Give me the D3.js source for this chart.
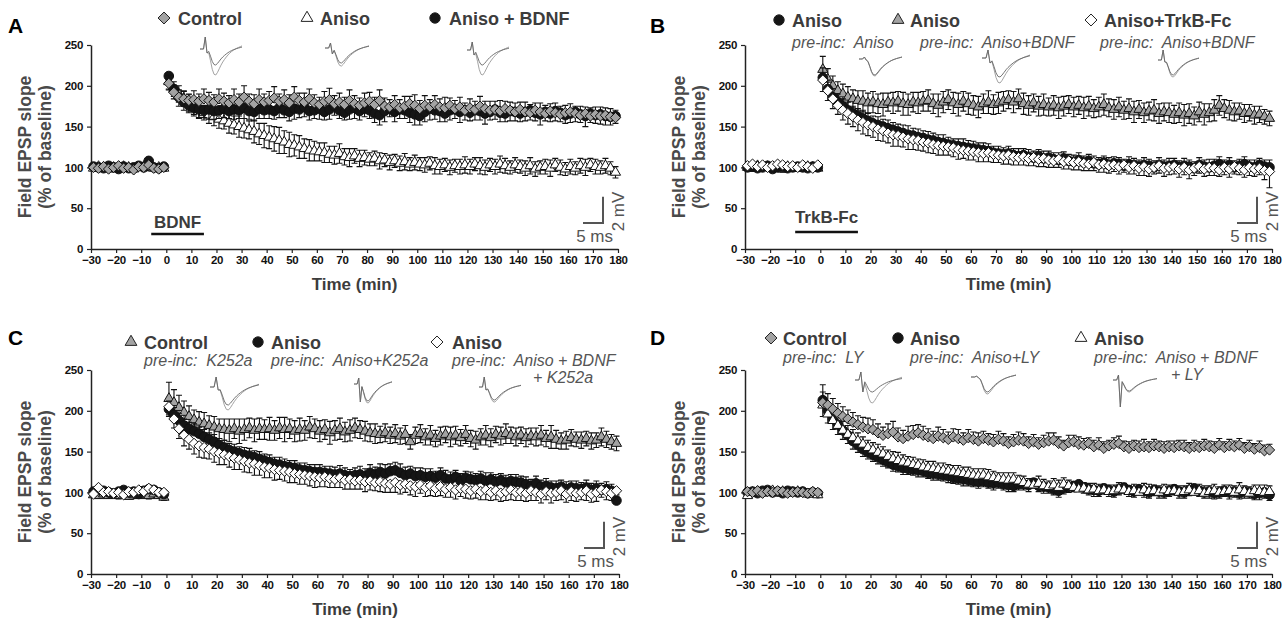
<!DOCTYPE html>
<html>
<head>
<meta charset="utf-8">
<script src="https://cdn.jsdelivr.net/npm/d3@7"></script>
<style>
  body { margin: 0; background: #fff; }
  svg text { font-family: "Liberation Sans", Arial, Helvetica, sans-serif; }
</style>
</head>
<body>
<svg id="fig" width="1288" height="621"></svg>
<script>
// sweep times (min): baseline every 2 min, then every 2 min after induction
const baseT = d3.range(-29, 0, 2)
const postT = d3.range(1, 180, 2)
const times = baseT.concat(postT)
const xTicks = d3.range(-30, 181, 10)
const yTicks = [0, 50, 100, 150, 200, 250]

// ---- panel A ----  (first row = baseline, then 9 rows of 10 post values)
const aCtrl = [100,99,101,98,100,102,99,100,97,101,100,103,99,98,100,
  203,192,186,184,182,183,181,184,182,180,
  184,181,179,183,180,186,181,178,183,180,
  182,185,181,183,179,186,182,180,184,179,
  177,181,183,178,180,177,182,178,176,179,
  181,177,182,175,174,177,173,175,178,176,
  172,176,174,177,174,173,176,172,174,170,
  173,171,175,172,170,171,169,172,170,168,
  171,168,167,170,168,166,169,167,165,167,
  168,166,164,166,163,165,163,164,162,161]
const aCtrlErr = [3,4,3,3,4,3,3,4,3,3,4,5,3,3,4,
  10,9,9,10,8,11,9,12,10,9,
  12,10,9,13,10,14,9,11,13,10,
  11,14,9,12,10,13,9,11,12,10,
  9,12,14,10,11,9,13,10,9,12,
  11,9,13,10,9,11,10,12,9,13,
  10,12,9,11,10,13,9,10,12,9,
  11,10,12,9,11,10,13,9,10,11,
  9,12,10,9,11,10,9,12,10,9,
  10,9,11,8,10,9,11,9,10,9]
const aAniso = [99,101,100,98,100,99,101,100,98,100,101,100,99,100,99,
  205,196,190,184,179,174,171,167,164,162,
  159,157,154,152,150,148,146,144,141,139,
  137,135,133,131,128,127,125,123,121,120,
  119,118,116,115,117,113,112,114,111,112,
  110,111,108,109,106,108,105,107,104,106,
  104,103,105,102,101,103,100,102,101,103,
  101,104,102,100,103,101,104,102,100,103,
  101,99,102,98,100,101,99,103,100,98,
  101,99,102,100,103,101,100,102,99,94]
const aAnisoErr = [3,3,4,3,3,4,3,3,4,3,3,4,3,3,4,
  10,9,10,9,10,9,10,9,10,11,
  11,10,12,11,13,12,11,14,13,15,
  14,15,16,14,15,13,14,12,13,12,
  11,12,10,11,12,10,11,9,10,9,
  8,9,10,8,9,8,9,10,8,9,
  8,9,8,10,9,8,9,8,9,10,
  9,8,10,9,8,9,10,9,8,9,
  8,9,10,9,8,9,10,8,9,8,
  9,8,9,10,8,9,8,9,8,7]
const aBdnf = [101,100,99,102,100,98,101,99,100,102,100,108,100,99,101,
  212,196,186,180,176,173,171,170,171,169,
  170,172,169,171,170,173,169,168,172,170,
  171,169,173,170,168,172,171,174,169,170,
  172,168,171,175,170,167,171,173,169,172,
  170,166,164,169,172,168,171,170,167,165,
  163,168,172,170,169,166,170,171,168,170,
  167,170,169,166,168,171,167,166,169,168,
  166,168,170,167,165,168,166,169,167,164,
  166,168,165,163,166,164,165,163,162,163]
const aBdnfErr = [3,4,3,4,3,3,4,3,3,4,3,6,3,4,3,
  16,12,11,10,9,10,11,9,12,10,
  10,11,9,12,10,13,10,11,12,10,
  11,10,12,9,11,13,10,12,11,10,
  13,10,12,11,10,9,12,13,11,10,
  10,11,12,13,10,12,11,10,12,13,
  11,12,14,11,13,10,12,11,13,12,
  10,12,11,13,10,12,11,10,12,11,
  10,11,12,10,13,11,10,12,11,10,
  11,12,10,13,11,10,12,11,10,9]

// ---- panel B ----
const bBlack = [100,101,99,100,102,98,100,101,99,100,101,100,99,101,100,
  210,196,186,180,175,170,166,163,160,157,
  154,152,150,148,146,144,142,140,139,137,
  136,134,133,131,130,128,127,126,125,124,
  123,122,121,120,118,117,116,117,115,114,
  115,113,112,114,111,112,110,109,111,108,
  107,109,106,108,105,104,106,103,105,104,
  102,104,103,101,103,102,100,103,101,102,
  103,100,102,101,99,103,101,100,102,104,
  101,103,100,102,104,101,100,103,101,100]
const bBlackErr = [3,3,4,3,3,3,4,3,3,4,3,3,3,4,3,
  12,11,10,10,9,10,9,9,10,9,
  9,10,9,10,9,9,10,11,9,10,
  9,10,9,9,10,9,8,9,10,9,
  9,8,9,9,8,9,8,9,8,9,
  8,9,8,8,9,8,8,9,8,8,
  8,9,8,8,9,8,8,9,8,8,
  8,9,8,8,9,8,8,9,8,9,
  8,8,9,8,8,9,8,10,8,9,
  8,9,8,8,9,8,9,8,8,9]
const bGray = [100,99,102,100,101,99,100,98,101,100,99,100,101,100,99,
  220,208,200,194,190,186,184,182,181,179,
  180,178,177,180,179,181,178,177,180,179,
  181,182,178,176,180,183,179,177,181,178,
  176,174,178,180,177,179,181,183,180,184,
  178,176,179,175,177,174,176,173,175,177,
  174,176,173,175,172,174,177,173,171,174,
  170,172,168,171,167,169,170,166,168,167,
  165,167,164,166,163,168,165,167,170,176,
  172,170,168,169,166,167,164,165,162,160]
const bGrayErr = [3,4,3,3,4,3,3,4,3,3,4,3,3,4,3,
  16,13,12,11,12,13,11,12,13,12,
  13,12,14,11,13,12,14,13,12,13,
  12,13,12,14,13,12,13,14,12,13,
  12,13,12,14,12,13,12,11,13,12,
  13,12,11,12,13,11,12,13,12,11,
  12,11,13,12,11,12,13,11,12,12,
  11,12,13,11,12,11,13,12,11,12,
  11,12,13,12,11,12,13,11,13,12,
  11,12,11,10,11,10,11,10,9,9]
const bTrkb = [102,104,101,103,100,102,104,103,101,102,100,103,101,99,103,
  207,194,184,176,170,166,162,158,155,152,
  150,147,145,142,140,139,137,135,134,133,
  131,130,128,127,126,125,124,122,121,120,
  119,118,117,118,116,115,114,115,113,112,
  113,111,112,110,111,109,108,110,107,108,
  106,107,105,104,106,103,104,102,103,101,
  103,100,102,99,101,98,100,102,99,100,
  101,98,100,97,99,101,98,100,99,97,
  100,98,101,99,97,100,98,99,96,95]
const bTrkbErr = [3,3,3,4,3,3,3,4,3,3,4,3,3,3,4,
  14,12,12,11,12,13,12,13,14,13,
  13,14,13,12,14,13,12,13,12,12,
  11,12,11,12,11,10,11,12,10,11,
  10,11,10,11,10,9,10,11,10,9,
  10,9,10,9,10,9,8,10,9,10,
  9,10,9,8,10,9,10,9,8,9,
  9,8,10,9,11,9,8,9,10,9,
  9,10,9,11,9,8,9,10,9,8,
  9,10,9,8,9,10,9,8,11,20]

// ---- panel C ----
const cGray = [97,96,98,96,97,96,98,95,97,96,97,96,98,96,94,
  215,210,204,198,193,189,186,184,182,180,
  178,177,176,178,175,177,179,176,178,177,
  178,176,179,177,178,175,177,176,180,178,
  175,177,173,176,178,174,176,179,177,175,
  173,172,171,173,170,172,169,171,162,170,
  172,168,170,166,169,171,168,170,167,171,
  166,164,168,170,167,171,169,172,170,168,
  170,167,169,168,170,166,168,165,163,164,
  167,165,164,166,163,164,168,165,162,160]
const cGrayErr = [3,3,4,3,3,4,3,3,4,3,3,4,3,3,4,
  20,16,15,14,13,12,13,14,12,13,
  12,13,14,12,15,13,12,14,13,12,
  14,12,13,15,12,13,14,12,13,12,
  13,12,14,12,13,12,13,12,11,12,
  11,12,10,11,10,11,10,11,9,10,
  11,10,12,10,11,10,12,11,10,11,
  10,11,10,12,11,10,11,12,10,11,
  10,11,10,11,12,10,14,11,10,11,
  10,9,10,9,10,9,11,10,9,9]
const cBlack = [101,103,102,100,99,101,103,100,101,98,102,104,103,100,98,
  202,195,188,182,178,175,172,168,165,162,
  158,155,152,150,148,146,145,143,141,139,
  137,135,134,132,131,130,128,127,126,125,
  125,124,123,122,123,121,120,121,122,120,
  124,122,125,123,126,127,124,121,123,120,
  121,119,120,118,121,117,116,119,114,118,
  116,115,117,114,116,113,115,112,114,113,
  112,110,108,111,107,108,106,105,107,104,
  106,105,104,106,103,105,103,104,102,90]
const cBlackErr = [3,3,4,3,3,3,4,3,3,3,4,3,3,3,4,
  10,9,9,8,8,9,8,9,8,9,
  8,9,8,9,8,9,9,8,9,8,
  9,8,9,9,8,9,8,9,8,9,
  9,8,9,9,10,9,8,9,10,9,
  10,9,10,11,9,10,11,10,9,10,
  9,10,9,8,9,10,9,8,9,8,
  9,8,9,10,8,9,8,9,8,9,
  8,9,8,9,8,9,8,9,8,9,
  8,9,8,9,8,9,8,9,8,7]
const cDiam = [98,106,100,101,99,100,97,101,100,103,101,105,103,100,100,
  205,190,178,170,165,160,157,155,153,150,
  148,146,144,142,140,138,136,135,133,131,
  130,128,127,126,125,123,122,121,120,119,
  118,119,117,116,118,115,116,114,115,113,
  114,112,113,111,110,112,109,110,108,107,
  109,106,108,105,107,104,106,103,105,104,
  102,104,101,103,100,102,99,101,103,100,
  101,99,102,100,98,101,99,100,102,98,
  101,99,100,102,98,100,103,101,99,102]
const cDiamErr = [3,4,3,3,4,3,3,3,4,3,3,4,3,3,3,
  12,11,12,13,12,13,14,13,12,13,
  14,12,13,14,12,13,12,14,12,13,
  12,13,11,12,13,11,12,11,12,13,
  11,12,11,10,12,11,12,10,11,12,
  11,10,12,11,10,12,11,10,11,12,
  10,11,12,10,11,10,12,11,10,11,
  10,11,10,12,10,11,10,11,12,10,
  11,10,12,10,11,10,12,10,11,10,
  11,10,9,12,10,11,9,10,9,8]

// ---- panel D ----
const dGray = [101,100,102,99,101,100,102,101,99,100,101,100,99,101,100,
  210,207,202,197,193,190,186,183,180,178,
  177,173,170,172,174,168,166,169,171,173,
  170,168,166,169,167,165,168,166,164,167,
  165,163,166,164,162,165,163,160,162,164,
  163,160,162,159,161,163,164,160,157,161,
  162,159,158,160,156,158,154,157,159,160,
  156,154,157,155,156,155,157,156,154,156,
  155,157,156,154,156,155,157,156,154,158,
  155,157,156,158,154,156,153,155,151,152]
const dGrayErr = [3,3,3,4,3,3,3,4,3,3,3,4,3,3,3,
  22,14,13,12,12,11,12,11,12,13,
  12,11,10,12,13,11,10,12,11,10,
  11,10,9,11,10,9,10,11,9,10,
  9,10,9,8,9,10,9,8,9,10,
  9,8,9,8,9,10,9,8,7,9,
  8,9,8,7,8,9,8,7,8,9,
  7,8,7,8,9,7,8,7,8,7,
  8,7,8,7,8,7,8,7,8,8,
  7,8,7,8,7,8,7,8,7,7]
const dBlack = [100,101,99,102,103,100,101,99,102,101,100,101,99,100,99,
  213,200,190,183,176,170,163,158,153,149,
  146,143,140,137,134,132,130,129,128,127,
  126,124,123,122,121,120,118,117,116,115,
  114,113,114,112,111,112,110,109,108,110,
  110,109,112,108,107,106,104,102,105,107,
  108,110,106,104,103,102,105,103,101,104,
  106,103,101,104,102,100,103,101,100,102,
  104,101,100,103,105,102,100,101,99,100,
  102,100,101,99,101,100,98,99,100,97]
const dBlackErr = [3,3,3,3,3,3,3,3,3,3,3,3,3,3,3,
  20,15,13,12,11,10,10,9,9,8,
  8,8,8,7,8,7,8,7,7,8,
  7,7,8,7,7,8,7,7,8,7,
  7,8,7,7,8,7,7,8,7,7,
  7,8,7,7,8,7,7,8,7,7,
  7,8,7,7,8,7,7,8,7,7,
  7,8,7,7,8,7,7,8,7,7,
  7,8,7,7,8,7,7,8,7,7,
  7,8,7,7,8,7,7,8,7,7]
const dTri = [96,100,101,99,100,102,100,101,99,100,101,100,98,100,97,
  207,196,188,182,176,171,167,163,159,155,
  152,149,147,144,141,139,137,136,134,133,
  131,130,129,128,127,126,125,124,123,122,
  121,120,121,119,118,117,116,115,116,114,
  112,110,109,111,108,107,109,106,110,108,
  106,104,105,103,104,102,103,101,102,104,
  103,101,102,100,103,101,102,100,103,101,
  102,100,101,103,100,102,99,101,102,100,
  101,102,100,103,101,99,102,101,100,101]
const dTriErr = [3,3,3,3,4,3,3,3,3,4,3,3,3,3,4,
  16,14,13,12,11,11,10,10,9,9,
  9,10,9,8,9,10,9,8,9,8,
  9,8,9,8,9,8,8,9,8,9,
  8,9,8,9,8,7,8,9,8,7,
  8,7,8,9,8,7,8,9,8,7,
  7,8,7,8,7,8,7,8,7,8,
  8,7,8,7,8,9,7,8,7,8,
  7,8,7,8,7,8,9,7,8,7,
  8,7,8,9,7,8,7,8,9,7]

// example fEPSP waveform (normalised negative deflection) for the insets
const epspShape = [0,0,0,0,0,0.15,0.45,0.78,0.97,1,0.9,0.76,0.62,0.5,0.4,0.31,0.23,0.16,0.1,0.05,0.01,-0.03,-0.06,-0.09,-0.12]

const GRAY = "#a3a3a3", BLACK = "#151515", WHITE = "#fff"
const txtCol = "#3c3c3c"

const panels = [
  { letter: "A", lx: 8, ly: 33, left: 91, right: 618, top: 45, bottom: 249,
    series: [
      { v: aAniso, e: aAnisoErr, shape: "tri", fill: WHITE, dir: "both" },
      { v: aBdnf, e: aBdnfErr, shape: "circle", fill: BLACK, dir: "down" },
      { v: aCtrl, e: aCtrlErr, shape: "diamond", fill: GRAY, dir: "up" }],
    legend: [
      { shape: "diamond", fill: GRAY, mx: 164, tx: 178, y: 18, label: "Control" },
      { shape: "tri", fill: WHITE, mx: 307, tx: 320, y: 18, label: "Aniso" },
      { shape: "circle", fill: BLACK, mx: 435, tx: 449, y: 18, label: "Aniso + BDNF" }],
    subs: [],
    bar: { label: "BDNF", from: -6, to: 15, ty: 228, by: 234 },
    insets: [
      { x: 200, y: 49, w: 42, d: [26, 16], art: [12, 4] },
      { x: 325, y: 48, w: 44, d: [18, 15], art: [5, 6] },
      { x: 467, y: 50, w: 42, d: [25, 15], art: [8, 5] }] },
  { letter: "B", lx: 650, ly: 33, left: 745, right: 1272, top: 45, bottom: 249,
    series: [
      { v: bGray, e: bGrayErr, shape: "tri", fill: GRAY, dir: "both" },
      { v: bBlack, e: bBlackErr, shape: "circle", fill: BLACK, dir: "up" },
      { v: bTrkb, e: bTrkbErr, shape: "diamond", fill: WHITE, dir: "down" }],
    legend: [
      { shape: "circle", fill: BLACK, mx: 779, tx: 792, y: 20, label: "Aniso" },
      { shape: "tri", fill: GRAY, mx: 898, tx: 910, y: 20, label: "Aniso" },
      { shape: "diamond", fill: WHITE, mx: 1091, tx: 1104, y: 20, label: "Aniso+TrkB-Fc" }],
    subs: [
      { x: 792, y: 48, text: "pre-inc:  Aniso" },
      { x: 920, y: 48, text: "pre-inc:  Aniso+BDNF" },
      { x: 1100, y: 48, text: "pre-inc:  Aniso+BDNF" }],
    bar: { label: "TrkB-Fc", from: -10, to: 15, ty: 223, by: 232 },
    insets: [
      { x: 859, y: 59, w: 43, d: [17, 16], art: [2, 1] },
      { x: 982, y: 58, w: 48, d: [25, 19], art: [8, 5] },
      { x: 1158, y: 60, w: 41, d: [17, 15], art: [10, 2] }] },
  { letter: "C", lx: 8, ly: 345, left: 91, right: 619, top: 370, bottom: 574,
    series: [
      { v: cGray, e: cGrayErr, shape: "tri", fill: GRAY, dir: "both" },
      { v: cBlack, e: cBlackErr, shape: "circle", fill: BLACK, dir: "up" },
      { v: cDiam, e: cDiamErr, shape: "diamond", fill: WHITE, dir: "down" }],
    legend: [
      { shape: "tri", fill: GRAY, mx: 131, tx: 144, y: 342, label: "Control" },
      { shape: "circle", fill: BLACK, mx: 258, tx: 271, y: 342, label: "Aniso" },
      { shape: "diamond", fill: WHITE, mx: 437, tx: 452, y: 342, label: "Aniso" }],
    subs: [
      { x: 144, y: 366, text: "pre-inc:  K252a" },
      { x: 271, y: 366, text: "pre-inc:  Aniso+K252a" },
      { x: 452, y: 366, text: "pre-inc:  Aniso + BDNF" },
      { x: 533, y: 383, text: "+ K252a" }],
    bar: null,
    insets: [
      { x: 210, y: 387, w: 49, d: [23, 18], art: [10, 3] },
      { x: 354, y: 384, w: 38, d: [19, 17], art: [6, 18] },
      { x: 479, y: 387, w: 42, d: [15, 13], art: [10, 3] }] },
  { letter: "D", lx: 650, ly: 345, left: 745, right: 1272, top: 370, bottom: 574,
    series: [
      { v: dBlack, e: dBlackErr, shape: "circle", fill: BLACK, dir: "down" },
      { v: dTri, e: dTriErr, shape: "tri", fill: WHITE, dir: "up" },
      { v: dGray, e: dGrayErr, shape: "diamond", fill: GRAY, dir: "up" }],
    legend: [
      { shape: "diamond", fill: GRAY, mx: 771, tx: 783, y: 338, label: "Control" },
      { shape: "circle", fill: BLACK, mx: 898, tx: 910, y: 338, label: "Aniso" },
      { shape: "tri", fill: WHITE, mx: 1081, tx: 1094, y: 338, label: "Aniso" }],
    subs: [
      { x: 783, y: 363, text: "pre-inc:  LY" },
      { x: 910, y: 363, text: "pre-inc:  Aniso+LY" },
      { x: 1094, y: 363, text: "pre-inc:  Aniso + BDNF" },
      { x: 1171, y: 380, text: "+ LY" }],
    bar: null,
    insets: [
      { x: 855, y: 380, w: 47, d: [23, 12], art: [8, 12] },
      { x: 971, y: 377, w: 45, d: [17, 15], art: [1, 1] },
      { x: 1113, y: 380, w: 44, d: [12, 11], art: [5, 27] }] }
]

const svg = d3.select("#fig")

function markerPath(shape, s) {
  if (shape === "circle") return d3.symbol(d3.symbolCircle, Math.PI * s * s)()
  if (shape === "diamond") {
    var h = s * 1.15
    return `M0,${-h}L${h},0L0,${h}L${-h},0Z`
  }
  var a = s * 1.3, b = s * 1.13
  return `M0,${-a}L${b},${a / 2}L${-b},${a / 2}Z`
}

function drawPanel(p) {
  var x = d3.scaleLinear().domain([-30, 180]).range([p.left, p.right])
  var y = d3.scaleLinear().domain([0, 250]).range([p.bottom, p.top])
  var g = svg.append("g")

  // panel letter
  g.append("text").attr("x", p.lx).attr("y", p.ly)
    .attr("font-size", 21).attr("font-weight", "bold").attr("fill", "#000")
    .text(p.letter)

  // axes
  var xAxis = g.append("g").attr("transform", `translate(0,${p.bottom})`)
    .call(d3.axisBottom(x).tickValues(xTicks).tickSize(4).tickSizeOuter(0).tickPadding(3)
      .tickFormat(d => d < 0 ? "\u2212" + Math.abs(d) : d))
  var yAxis = g.append("g").attr("transform", `translate(${p.left},0)`)
    .call(d3.axisLeft(y).tickValues(yTicks).tickSize(4).tickSizeOuter(0).tickPadding(4))
  ;[xAxis, yAxis].forEach(a => {
    a.attr("font-family", null).attr("font-size", null)
    a.select(".domain").attr("stroke", "#222").attr("stroke-width", 1.5)
    a.selectAll(".tick line").attr("stroke", "#222").attr("stroke-width", 1.2)
    a.selectAll(".tick text").attr("font-size", 11.5).attr("font-weight", "bold")
      .attr("fill", "#111").style("letter-spacing", "-0.3px")
  })

  // axis titles
  var cx = (p.left + p.right) / 2, cy = (p.top + p.bottom) / 2
  g.append("text").attr("x", cx).attr("y", p.bottom + 41)
    .attr("text-anchor", "middle").attr("font-size", 17).attr("font-weight", "bold")
    .attr("fill", txtCol).text("Time (min)")
  var yt = g.append("text").attr("transform", `translate(${p.left - 60},${cy}) rotate(-90)`)
    .attr("text-anchor", "middle").attr("font-size", 17.5).attr("font-weight", "bold")
    .attr("fill", "#4a4a4a")
  yt.append("tspan").attr("x", 0).attr("dy", 0).text("Field EPSP slope")
  yt.append("tspan").attr("x", 0).attr("dy", 20).text("(% of baseline)")

  // data
  p.series.forEach(s => {
    var pts = times.map((t, i) => ({ t: t, v: s.v[i], e: s.e[i] }))
    var d = ""
    pts.forEach(q => {
      var px = x(q.t)
      var hi = s.dir === "down" ? q.v : q.v + q.e
      var lo = s.dir === "up" ? q.v : q.v - q.e
      d += `M${px},${y(lo)}V${y(hi)}`
      if (s.dir !== "down") d += `M${px - 3},${y(hi)}H${px + 3}`
      if (s.dir !== "up") d += `M${px - 3},${y(lo)}H${px + 3}`
    })
    g.append("path").attr("d", d).attr("fill", "none")
      .attr("stroke", "#111").attr("stroke-width", 1.1)
    g.selectAll(null).data(pts).join("path")
      .attr("transform", q => `translate(${x(q.t)},${y(q.v)})`)
      .attr("d", markerPath(s.shape, s.shape === "circle" ? 4.8 : 4.5))
      .attr("fill", s.fill).attr("stroke", "#111").attr("stroke-width", 1)
  })

  // legend
  p.legend.forEach(l => {
    g.append("path").attr("transform", `translate(${l.mx},${l.y})`)
      .attr("d", markerPath(l.shape, 5.2))
      .attr("fill", l.fill).attr("stroke", "#222").attr("stroke-width", 1)
    g.append("text").attr("x", l.tx).attr("y", l.y + 6.5)
      .attr("font-size", 18).attr("font-weight", "bold").attr("fill", txtCol)
      .text(l.label)
  })
  p.subs.forEach(sb => {
    g.append("text").attr("x", sb.x).attr("y", sb.y)
      .attr("font-size", 16).attr("font-style", "italic").attr("fill", "#555")
      .style("white-space", "pre").text(sb.text)
  })

  // drug application bar
  if (p.bar) {
    g.append("line").attr("x1", x(p.bar.from)).attr("x2", x(p.bar.to))
      .attr("y1", p.bar.by).attr("y2", p.bar.by)
      .attr("stroke", "#111").attr("stroke-width", 2.5)
    g.append("text").attr("x", (x(p.bar.from) + x(p.bar.to)) / 2).attr("y", p.bar.ty)
      .attr("text-anchor", "middle").attr("font-size", 17).attr("font-weight", "bold")
      .attr("fill", txtCol).text(p.bar.label)
  }

  // scale bar
  var xe = p.right
  g.append("path")
    .attr("d", `M${xe - 15},${y(64)}V${y(32)}H${xe - 35}`)
    .attr("fill", "none").attr("stroke", "#555").attr("stroke-width", 2)
  g.append("text").attr("x", xe - 5).attr("y", y(8))
    .attr("text-anchor", "end").attr("font-size", 17).attr("fill", "#555").text("5 ms")
  g.append("text").attr("transform", `translate(${xe + 6},${y(46)}) rotate(-90)`)
    .attr("text-anchor", "middle").attr("font-size", 17).attr("fill", "#555").text("2 mV")

  // example traces
  p.insets.forEach(ins => {
    var tx = d3.scaleLinear().domain([0, epspShape.length - 1]).range([ins.x, ins.x + ins.w])
    ins.d.forEach((depth, k) => {
      var line = d3.line()
        .x((v, i) => tx(i))
        .y((v, i) => ins.y + v * depth + (i === 3 ? -ins.art[0] : i === 4 ? ins.art[1] : 0))
      g.append("path").attr("d", line(epspShape)).attr("fill", "none")
        .attr("stroke", k === 0 ? "#999" : "#666").attr("stroke-width", 0.9)
    })
  })
}

panels.forEach(drawPanel)
</script>
</body>
</html>
